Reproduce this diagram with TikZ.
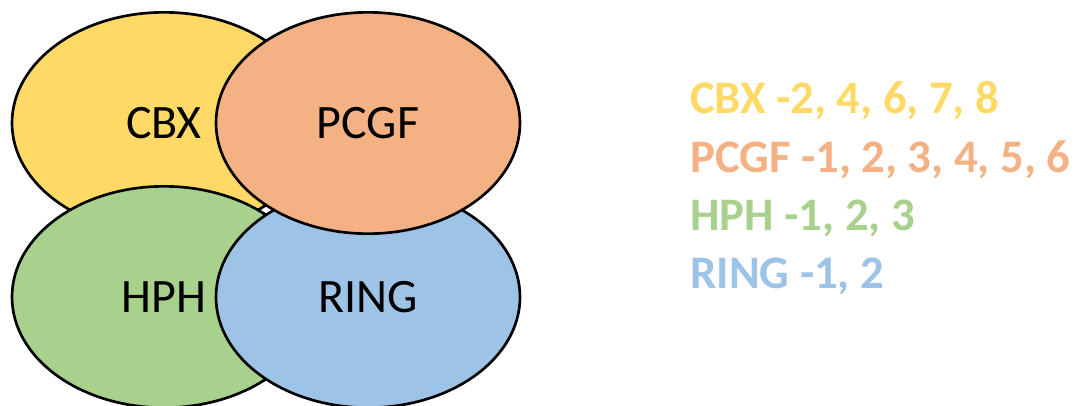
\documentclass[tikz,border=0pt]{standalone}
\usepackage{fontspec}
\setmainfont{Carlito}
\usetikzlibrary{shapes.geometric}
\definecolor{cbxcol}{HTML}{FFD966}
\definecolor{pcgfcol}{HTML}{F4B183}
\definecolor{hphcol}{HTML}{A9D18E}
\definecolor{ringcol}{HTML}{9DC3E6}
\begin{document}
\begin{tikzpicture}[x=0.75pt, y=-0.75pt, line join=round, line cap=round]
			\tikzset{blob/.style={ellipse, draw=black, line width=2pt, inner sep=0pt,
					minimum width=228pt, minimum height=166pt, font=\fontsize{36}{42}\selectfont}}
			\tikzset{keyline/.style={anchor=base west, inner sep=0pt, font=\fontsize{35}{42}\selectfont\bfseries}}
			\def \xmax{1088}
			\def \ymax{405}
			\useasboundingbox (0,0) rectangle (\xmax,\ymax);
			
			% ellipses, back to front
			\foreach \n/\c/\x/\y in {CBX/cbxcol/164/123, HPH/hphcol/164/297, RING/ringcol/368/297, PCGF/pcgfcol/368/123}
			\node[blob, fill=\c] (\n) at (\x,\y) {\n};
			
			% legend
			\foreach \n/\c/\t/\y in {CBX/cbxcol/{-2, 4, 6, 7, 8}/113, PCGF/pcgfcol/{-1, 2, 3, 4, 5, 6}/172, HPH/hphcol/{-1, 2, 3}/230, RING/ringcol/{-1, 2}/288}
			\node[keyline, text=\c] (key\n) at (690,\y) {\n{} \t};
		\end{tikzpicture}
\end{document}
